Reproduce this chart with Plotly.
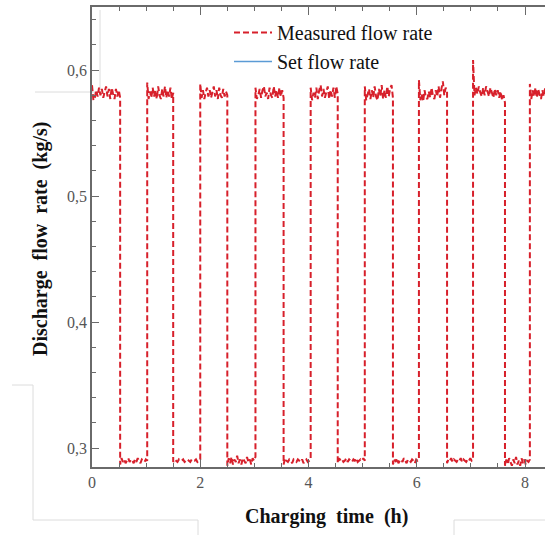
import numpy as np
import plotly.graph_objects as go

# Step changes of the discharge flow (h): start/end of each high and low plateau
high_start = [0.00, 1.02, 2.00, 3.02, 4.04, 5.04, 6.04, 7.04, 8.09]
high_end = [0.52, 1.50, 2.50, 3.54, 4.54, 5.56, 6.56, 7.63, 8.45]
low_start = [0.52, 1.50, 2.50, 3.54, 4.54, 5.56, 6.56, 7.63]
low_end = [1.02, 2.00, 3.02, 4.04, 5.04, 6.04, 7.04, 8.09]

# Measured flow rate on each high plateau (kg/s)
high_values = [
    [0.588, 0.576, 0.578, 0.584, 0.579, 0.586, 0.580, 0.585, 0.578, 0.583, 0.587,
     0.579, 0.585, 0.577, 0.586, 0.581, 0.577, 0.585, 0.579, 0.584, 0.578],
    [0.590, 0.577, 0.583, 0.578, 0.586, 0.579, 0.584, 0.577, 0.587, 0.580, 0.577,
     0.585, 0.579, 0.587, 0.578, 0.584, 0.579, 0.586, 0.577, 0.582],
    [0.589, 0.578, 0.584, 0.577, 0.582, 0.586, 0.579, 0.584, 0.578, 0.582, 0.587,
     0.579, 0.584, 0.577, 0.586, 0.580, 0.578, 0.585, 0.579, 0.583, 0.580],
    [0.586, 0.577, 0.580, 0.585, 0.578, 0.584, 0.587, 0.579, 0.582, 0.577, 0.586,
     0.580, 0.578, 0.587, 0.579, 0.584, 0.578, 0.586, 0.579, 0.584, 0.578],
    [0.586, 0.576, 0.582, 0.578, 0.586, 0.577, 0.584, 0.588, 0.579, 0.585, 0.578,
     0.582, 0.587, 0.577, 0.584, 0.579, 0.586, 0.578, 0.587, 0.581],
    [0.587, 0.576, 0.580, 0.585, 0.577, 0.584, 0.578, 0.587, 0.579, 0.576, 0.585,
     0.579, 0.588, 0.577, 0.584, 0.578, 0.587, 0.579, 0.585, 0.588, 0.578],
    [0.592, 0.576, 0.581, 0.575, 0.584, 0.578, 0.577, 0.583, 0.578, 0.586, 0.579,
     0.577, 0.584, 0.579, 0.587, 0.578, 0.585, 0.591, 0.580, 0.586, 0.583],
    [0.608, 0.580, 0.586, 0.581, 0.587, 0.582, 0.579, 0.586, 0.580, 0.587, 0.582,
     0.579, 0.586, 0.581, 0.578, 0.585, 0.580, 0.584, 0.578, 0.583, 0.576, 0.580,
     0.574],
    [0.589, 0.577, 0.584, 0.579, 0.586, 0.578, 0.585, 0.580, 0.577, 0.584, 0.579,
     0.586, 0.578, 0.582, 0.586],
]

# Measured flow rate on each low plateau (kg/s)
low_values = [
    [0.287, 0.292, 0.289, 0.291, 0.288, 0.290, 0.292, 0.289, 0.291, 0.290, 0.288,
     0.291, 0.289, 0.292, 0.290, 0.288, 0.291, 0.290, 0.289, 0.291, 0.290],
    [0.289, 0.291, 0.290, 0.289, 0.291, 0.290, 0.290, 0.291, 0.289, 0.290, 0.291,
     0.290, 0.289, 0.291, 0.290, 0.290, 0.291, 0.289, 0.290, 0.291],
    [0.286, 0.292, 0.288, 0.293, 0.287, 0.291, 0.289, 0.294, 0.288, 0.291, 0.287,
     0.292, 0.290, 0.288, 0.293, 0.289, 0.291, 0.287, 0.292, 0.290, 0.293],
    [0.287, 0.292, 0.290, 0.289, 0.291, 0.290, 0.288, 0.291, 0.290, 0.289, 0.291,
     0.290, 0.289, 0.291, 0.288, 0.290, 0.291, 0.289, 0.290, 0.291],
    [0.288, 0.292, 0.290, 0.291, 0.289, 0.290, 0.292, 0.289, 0.291, 0.290, 0.289,
     0.291, 0.290, 0.292, 0.289, 0.290, 0.291, 0.290, 0.292, 0.290],
    [0.287, 0.291, 0.289, 0.292, 0.288, 0.290, 0.291, 0.289, 0.292, 0.290, 0.288,
     0.291, 0.290, 0.289, 0.291, 0.290, 0.288, 0.291, 0.290, 0.291],
    [0.288, 0.291, 0.290, 0.292, 0.289, 0.291, 0.290, 0.289, 0.291, 0.290, 0.292,
     0.289, 0.291, 0.290, 0.289, 0.291, 0.290, 0.292, 0.290, 0.291],
    [0.286, 0.291, 0.287, 0.292, 0.289, 0.286, 0.291, 0.288, 0.293, 0.287, 0.290,
     0.286, 0.292, 0.288, 0.291, 0.287, 0.290, 0.289, 0.291],
]

# Axis ticks
x_ticks = [0, 2, 4, 6, 8]
y_ticks = [0.3, 0.4, 0.5, 0.6]

# Assemble the measured signal in time order
t_meas, q_meas = [], []
for i in range(len(high_values)):
    hv = high_values[i]
    t_meas += list(np.linspace(high_start[i], high_end[i], len(hv)))
    q_meas += hv
    if i < len(low_values):
        lv = low_values[i]
        t_meas += list(np.linspace(low_start[i], low_end[i], len(lv)))
        q_meas += lv

W, H = 545, 535
L, R, T, B = 92, 0, 7, 68
pw, ph = W - L - R, H - T - B


def px(x):
    return (x - L) / pw


def py(y):
    return (H - B - y) / ph


fig = go.Figure()
fig.add_trace(go.Scatter(
    x=t_meas, y=q_meas, mode="lines", name="Measured flow rate",
    line=dict(color="#d7202b", width=2, dash="6px,3px"),
))
fig.add_trace(go.Scatter(
    x=[None], y=[None], mode="lines", name="Set flow rate",
    line=dict(color="#5b9bd5", width=1.5),
))

serif = "Liberation Serif, Times New Roman, serif"
axis_color = "#6a6a6a"

# Thin light-grey frame lines around the figure
grey_paths = [
    [(35, 92), (100, 92), (100, 10)],
    [(12, 385), (33, 385), (33, 520), (198, 520), (198, 535)],
    [(454, 535), (454, 520), (545, 520)],
]
shapes = []
for path in grey_paths:
    for (x0, y0), (x1, y1) in zip(path[:-1], path[1:]):
        shapes.append(dict(type="line", xref="paper", yref="paper",
                           x0=px(x0), y0=py(y0), x1=px(x1), y1=py(y1),
                           line=dict(color="#dcdcdc", width=1), layer="below"))

fig.update_layout(
    width=W, height=H,
    margin=dict(l=L, r=R, t=T, b=B),
    paper_bgcolor="white", plot_bgcolor="white",
    separators=",.",
    font=dict(family=serif, color="#555555", size=16),
    showlegend=True,
    legend=dict(x=px(229), y=py(13), xanchor="left", yanchor="top",
                bgcolor="rgba(0,0,0,0)", font=dict(family=serif, size=20, color="#111111"),
                itemwidth=38, tracegroupgap=0),
    shapes=shapes,
    annotations=[
        dict(text="<b>Charging  time  (h)</b>", xref="paper", yref="paper",
             x=px(326), y=py(516), showarrow=False, xanchor="center", yanchor="middle",
             font=dict(family=serif, size=20, color="#111111")),
        dict(text="<b>Discharge  flow  rate  (kg/s)</b>", xref="paper", yref="paper",
             x=px(40), y=py(239), showarrow=False, textangle=-90,
             xanchor="center", yanchor="middle",
             font=dict(family=serif, size=20, color="#111111")),
    ],
)
fig.update_xaxes(
    range=[0, (W - L) / 54.125], tickvals=x_ticks, ticks="inside", ticklen=8,
    tickcolor=axis_color, showline=True, linecolor=axis_color, linewidth=1.5,
    mirror="ticks", showgrid=False, zeroline=False,
    minor=dict(dtick=0.5, tick0=0, ticks="inside", ticklen=4, tickcolor=axis_color),
)
fig.update_yaxes(
    range=[0.285, 0.65], tickvals=y_ticks, tickformat=".1f", ticks="inside",
    ticklen=7, tickcolor=axis_color, showline=True, linecolor=axis_color,
    linewidth=1.5, showgrid=False, zeroline=False,
    minor=dict(dtick=0.02, tick0=0.3, ticks="inside", ticklen=4, tickcolor=axis_color),
)

fig.write_html("out.html")
